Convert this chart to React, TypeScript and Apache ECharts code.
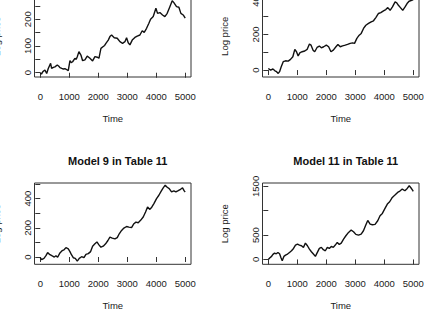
import React, { useEffect, useRef } from "react";
import * as echarts from "echarts";

// Panel 1 (top-left)
const s1Time = [0, 40, 90, 160, 220, 275, 356, 390, 450, 505, 586, 640, 678, 740, 793, 850, 908, 965, 1023, 1070, 1115, 1195, 1240, 1276, 1333, 1402, 1460, 1540, 1620, 1670, 1713, 1805, 1885, 1966, 2023, 2092, 2172, 2220, 2264, 2345, 2402, 2460, 2552, 2655, 2747, 2839, 2920, 2977, 3034, 3092, 3172, 3264, 3345, 3437, 3517, 3586, 3667, 3747, 3805, 3897, 3989, 4046, 4126, 4218, 4299, 4379, 4471, 4552, 4609, 4701, 4782, 4851, 4931, 5000];
const s1Value = [0, -5, 4, 10, -3, 16, 35, 16, 20, 22, 29, 24, 19, 16, 14, 15, 12, 8, 45, 38, 41, 54, 50, 60, 79, 66, 45, 48, 62, 58, 54, 44, 60, 58, 54, 91, 98, 102, 110, 122, 135, 141, 131, 129, 116, 110, 116, 131, 112, 104, 122, 132, 137, 141, 157, 151, 166, 185, 200, 210, 241, 222, 225, 216, 210, 222, 247, 269, 262, 247, 245, 222, 216, 204];

// Panel 2 (top-right)
const s2Time = [0, 80, 160, 229, 286, 343, 389, 446, 515, 595, 687, 767, 847, 915, 973, 1030, 1087, 1167, 1259, 1339, 1419, 1476, 1545, 1602, 1682, 1762, 1831, 1911, 2002, 2082, 2162, 2243, 2334, 2403, 2483, 2563, 2655, 2735, 2827, 2907, 2976, 3056, 3137, 3206, 3286, 3366, 3458, 3550, 3630, 3710, 3802, 3882, 3974, 4054, 4123, 4204, 4284, 4376, 4433, 4490, 4559, 4639, 4719, 4788, 4857, 4949, 5000];
const s2Value = [9, 0, 6, -4, -9, -19, -9, 19, 47, 52, 50, 60, 75, 116, 103, 79, 97, 103, 107, 116, 146, 140, 112, 103, 127, 135, 125, 131, 140, 131, 103, 112, 131, 144, 131, 136, 140, 144, 150, 153, 150, 178, 196, 206, 234, 252, 262, 271, 277, 295, 318, 323, 333, 340, 351, 336, 355, 383, 378, 364, 351, 336, 355, 374, 387, 392, 396];

// Panel 3 (bottom-left): Model 9 in Table 11
const s3Time = [0, 46, 126, 195, 253, 333, 414, 483, 540, 598, 678, 759, 828, 885, 966, 1023, 1080, 1138, 1207, 1276, 1345, 1425, 1506, 1575, 1655, 1736, 1805, 1885, 1954, 2023, 2092, 2172, 2253, 2333, 2402, 2483, 2575, 2655, 2724, 2805, 2885, 2977, 3057, 3149, 3230, 3299, 3379, 3460, 3552, 3632, 3701, 3782, 3851, 3920, 4011, 4092, 4172, 4241, 4310, 4379, 4448, 4529, 4609, 4678, 4759, 4839, 4908, 4966, 5000];
const s3Value = [-5, -18, -9, 9, 30, 16, 7, 0, 9, -2, 28, 44, 51, 64, 55, 37, 14, -5, -9, -28, -9, 2, -5, 18, 23, 37, 74, 90, 103, 83, 67, 74, 90, 113, 136, 129, 124, 133, 159, 182, 198, 209, 205, 202, 228, 239, 235, 251, 274, 308, 343, 326, 343, 366, 400, 423, 451, 474, 492, 478, 469, 446, 453, 446, 455, 464, 474, 453, 446];

// Panel 4 (bottom-right): Model 11 in Table 11
const s4Time = [0, 57, 114, 160, 217, 275, 332, 389, 435, 481, 538, 595, 664, 732, 801, 870, 938, 1007, 1076, 1144, 1213, 1281, 1350, 1419, 1487, 1556, 1625, 1693, 1762, 1831, 1899, 1968, 2037, 2105, 2174, 2243, 2311, 2380, 2449, 2517, 2597, 2677, 2769, 2860, 2941, 3021, 3112, 3204, 3284, 3364, 3432, 3513, 3593, 3684, 3776, 3856, 3936, 4027, 4108, 4188, 4279, 4371, 4462, 4542, 4622, 4714, 4794, 4863, 4920, 4977, 5000];
const s4Value = [0, 34, 62, 103, 130, 116, 144, 116, 41, -27, 62, 89, 110, 144, 178, 226, 295, 315, 295, 281, 247, 336, 281, 212, 158, 110, 62, 144, 226, 247, 199, 178, 247, 226, 267, 247, 295, 349, 308, 336, 418, 486, 555, 603, 569, 514, 500, 521, 589, 706, 801, 726, 712, 719, 795, 897, 945, 1048, 1137, 1185, 1274, 1322, 1377, 1404, 1445, 1411, 1459, 1514, 1473, 1425, 1397];

const xTicks = [0, 1000, 2000, 3000, 4000, 5000];
const y1Ticks = [0, 50, 100, 150, 200, 250];
const y1Labels = [0, 100, 200];
const y2Ticks = [0, 100, 200, 300, 400];
const y2Labels = [0, 200, 400];
const y3Ticks = [0, 100, 200, 300, 400, 500];
const y3Labels = [0, 200, 400];
const y4Ticks = [0, 500, 1000, 1500];
const y4Labels = [0, 500, 1500];

const titles = ["Model 9 in Table 11", "Model 11 in Table 11"];
const xName = "Time";
const yName = "Log price";

const FONT = "'Liberation Sans', Arial, Helvetica, sans-serif";
const TEXT = "#1a1a1a";
const LINE = "#333";

function pairs(t: number[], v: number[]) {
  return t.map((x, i) => [x, v[i]]);
}

export default function App() {
  const ref = useRef<HTMLDivElement>(null);
  useEffect(() => {
    if (!ref.current) return;
    const chart = echarts.init(ref.current, null, { renderer: "svg" });
    const gridW = 156.5;
    const gridH = 81.3;
    const boxes = [
      { left: 34.5, top: -4.3 },
      { left: 262.5, top: -4.3 },
      { left: 34.5, top: 183 },
      { left: 262.5, top: 183 },
    ];
    const grids = boxes.map((g) => ({
      ...g,
      width: gridW,
      height: gridH,
      show: true,
      borderColor: LINE,
      borderWidth: 1,
      backgroundColor: "transparent",
      containLabel: false,
      outerBoundsMode: "none",
    }));
    const yRanges = [
      [-16, 288],
      [-39, 418],
      [-50, 507],
      [-100, 1570],
    ];
    const yTicks = [y1Ticks, y2Ticks, y3Ticks, y4Ticks];
    const yLabels = [y1Labels, y2Labels, y3Labels, y4Labels];
    const xAxes = grids.map((_, i) => ({
      type: "value",
      gridIndex: i,
      min: -200,
      max: 5200,
      name: xName,
      nameLocation: "middle",
      nameGap: 36,
      nameTextStyle: { fontFamily: FONT, fontSize: 9.5, color: TEXT },
      axisLine: { show: false },
      splitLine: { show: false },
      axisTick: {
        show: true,
        customValues: xTicks,
        length: 5,
        lineStyle: { color: LINE, width: 1 },
      },
      axisLabel: {
        customValues: xTicks,
        formatter: (v: number) => String(v),
        margin: 14,
        fontFamily: FONT,
        fontSize: 9.5,
        color: TEXT,
      },
    }));
    const yAxes = grids.map((_, i) => ({
      type: "value",
      gridIndex: i,
      min: yRanges[i][0],
      max: yRanges[i][1],
      axisLine: { show: false },
      splitLine: { show: false },
      axisTick: {
        show: true,
        customValues: yTicks[i],
        length: 5,
        lineStyle: { color: LINE, width: 1 },
      },
      axisLabel: {
        customValues: yLabels[i],
        formatter: (v: number) => String(v),
        rotate: 90,
        margin: 2,
        fontFamily: FONT,
        fontSize: 9.5,
        color: TEXT,
      },
    }));
    const data = [
      pairs(s1Time, s1Value),
      pairs(s2Time, s2Value),
      pairs(s3Time, s3Value),
      pairs(s4Time, s4Value),
    ];
    const series = data.map((d, i) => ({
      type: "line",
      xAxisIndex: i,
      yAxisIndex: i,
      data: d,
      showSymbol: false,
      symbol: "none",
      lineStyle: { color: "#111", width: 1.4 },
      silent: true,
    }));
    const yNameTexts = boxes.map((b) => ({
      type: "text",
      x: b.left - 38,
      y: b.top + gridH / 2,
      rotation: Math.PI / 2,
      style: {
        text: yName,
        font: `9.5px ${FONT}`,
        fill: TEXT,
        align: "center",
        verticalAlign: "middle",
      },
      silent: true,
    }));
    chart.setOption({
      animation: false,
      backgroundColor: "#ffffff",
      title: [
        {
          text: titles[0],
          left: 112.75,
          top: 150,
          textAlign: "center",
          textStyle: { fontFamily: FONT, fontSize: 11, fontWeight: "bold", color: "#111" },
        },
        {
          text: titles[1],
          left: 340.75,
          top: 150,
          textAlign: "center",
          textStyle: { fontFamily: FONT, fontSize: 11, fontWeight: "bold", color: "#111" },
        },
      ],
      grid: grids,
      xAxis: xAxes,
      yAxis: yAxes,
      series,
      graphic: yNameTexts,
    });
    return () => chart.dispose();
  }, []);
  return (
    <div
      ref={ref}
      style={{ position: "fixed", left: 0, top: 0, width: 431, height: 318 }}
    />
  );
}
